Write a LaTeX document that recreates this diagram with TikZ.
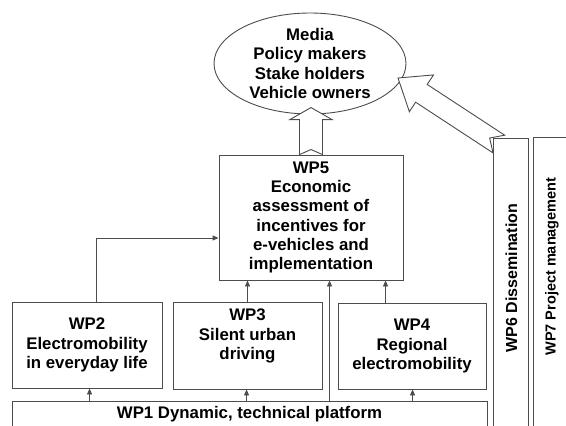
\documentclass[tikz,border=0pt]{standalone}
\usepackage{fontspec}
\setmainfont{Liberation Sans}
\usetikzlibrary{arrows.meta,calc,shapes.geometric}

\newcommand\wpfont{\fontsize{16.8}{19.3}\selectfont\bfseries}
\newcommand\sixfont{\fontsize{16}{18}\selectfont\bfseries}
\newcommand\sevenfont{\fontsize{14.5}{18}\selectfont\bfseries}

% Block arrow with a notched tail:
% #1 tail, #2 tip, #3 shaft half-width, #4 head half-width, #5 head length, #6 notch depth
\newcommand\hollowarrow[6]{%
  \coordinate (haJ) at ($(#2)!#5!(#1)$);
  \draw[hollow]
    ($(#1)!#3!90:(#2)$) -- ($(haJ)!#3!90:(#2)$) -- ($(haJ)!#4!90:(#2)$) -- (#2)
    -- ($(haJ)!#4!-90:(#2)$) -- ($(haJ)!#3!-90:(#2)$) -- ($(#1)!#3!-90:(#2)$)
    -- ($(#1)!#6!(#2)$) -- cycle;
}

\begin{document}
\begin{tikzpicture}[x=1pt,y=-1pt,
  line/.style={draw=black!70, line width=0.9pt},
  wpbox/.style={line, rectangle, inner sep=0pt, align=center, font=\wpfont},
  wptext/.style={inner sep=0pt, align=center, font=\wpfont},
  sidetext/.style={inner sep=0pt, rotate=90},
  link/.style={line, -{Triangle[length=6pt,width=5pt]}},
  hollow/.style={line, fill=white, line join=miter},
]
\useasboundingbox (0,0) rectangle (566,426);
\clip (0,0) rectangle (566,426);

% stakeholders
\node[line, ellipse, minimum width=192pt, minimum height=101pt, inner sep=0pt,
      align=center, font=\wpfont] (media) at (310,63.5)
  {Media\\Policy makers\\Stake holders\\Vehicle owners};

% work packages
\node[wpbox, minimum width=184pt, minimum height=125pt] (wp5) at (311,217.5)
  {WP5\\Economic\\assessment of\\incentives for\\e-vehicles and\\implementation};
\node[wpbox, minimum width=150pt, minimum height=86pt] (wp2) at (87,345)
  {WP2\\Electromobility\\in everyday life};
\node[wpbox, minimum width=149pt, minimum height=87pt] (wp3) at (247.5,345.5) {};
\node[wptext] (wp3t) at ($(wp3.center)+(0,-9.5)$) {WP3\\Silent urban\\driving};
\node[wpbox, minimum width=148pt, minimum height=86pt] (wp4) at (412,346)
  {WP4\\Regional\\electromobility};
\node[line, rectangle, minimum width=475pt, minimum height=40pt, inner sep=0pt] (wp1)
  at (249.5,421) {};
\node[wptext] (wp1t) at (249.5,414.5) {WP1 Dynamic, technical platform};

\node[line, rectangle, minimum width=35pt, minimum height=320pt, inner sep=0pt] (wp6)
  at (510.5,298) {};
\node[sidetext, font=\sixfont] (wp6t) at (511.5,278) {WP6 Dissemination};
\node[line, rectangle, minimum width=50pt, minimum height=320pt, inner sep=0pt] (wp7)
  at (558,297) {};
\node[sidetext, font=\sevenfont] (wp7t) at (552,266.5) {WP7 Project management};

% links from the platform
\path (wp1.north west) ++(78,0) coordinate (p12);
\path (wp1.north west) ++(235,0) coordinate (p13);
\path (wp1.north west) ++(318,0) coordinate (p15);
\path (wp1.north west) ++(401,0) coordinate (p14);
\draw[link] (p12) -- (p12 |- wp2.south);
\draw[link] (p13) -- (p13 |- wp3.south);
\draw[link] (p14) -- (p14 |- wp4.south);
\draw[link] (p15) -- (p15 |- wp5.south);

% links into WP5
\coordinate (p25) at ($(wp2.north)+(9,0)$);
\draw[link] (p25) |- ($(wp5.west)+(0,20.5)$);
\draw[link] (wp3.north) -- (wp3.north |- wp5.south);
\path (wp4.north west) ++(48,0) coordinate (p45);
\draw[link] (p45) -- (p45 |- wp5.south);

% results flowing to the stakeholders
\coordinate (vtip) at ($(wp5.north)+(0,-47)$);
\hollowarrow{wp5.north}{vtip}{11.5pt}{21pt}{12pt}{5pt}
\coordinate (dtail) at ($(wp6.north west)+(6.3,6.5)$);
\coordinate (dtip) at ($(media.center)+(88,14.5)$);
\hollowarrow{dtail}{dtip}{10.6pt}{22pt}{28pt}{11pt}
\end{tikzpicture}
\end{document}
